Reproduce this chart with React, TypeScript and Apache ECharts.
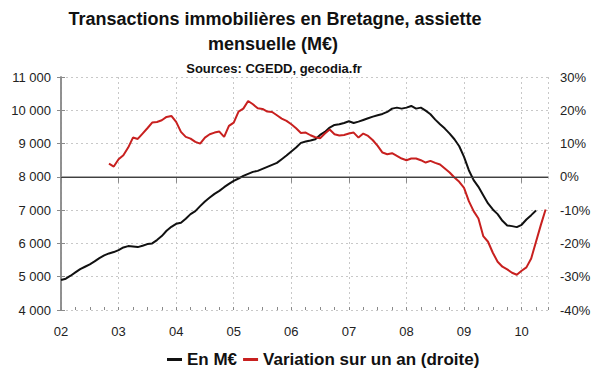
import React, { useEffect, useRef } from "react";
import * as echarts from "echarts";

// Monthly values, Jan 2002 = month 0
const BLACK_START = 0;
const blackValues = [
  4900, 4940, 5030, 5130, 5230, 5300, 5370, 5460, 5560, 5640, 5700, 5740,
  5800, 5880, 5920, 5910, 5890, 5930, 5980, 6000, 6100, 6220, 6380, 6500,
  6590, 6620, 6740, 6880, 6970, 7120, 7260, 7380, 7490, 7580, 7690, 7790,
  7880, 7950, 8030, 8090, 8150, 8180, 8240, 8300, 8360, 8420, 8530, 8640,
  8760, 8880, 9020, 9060, 9090, 9130, 9260, 9350, 9480, 9560, 9580, 9620,
  9670, 9620, 9660, 9710, 9760, 9810, 9850, 9890, 9950, 10050, 10080, 10050,
  10080, 10130, 10050, 10080, 9990, 9880, 9720, 9580, 9450, 9300, 9130, 8920,
  8600, 8200, 7900, 7700, 7450, 7200, 7020, 6880, 6680, 6540, 6520, 6490,
  6560, 6720, 6850, 6990,
];

const RED_START = 10; // Nov 2002
const redValues = [
  4.0, 3.1,
  5.3, 6.5, 8.8, 11.8, 11.4, 13.0, 14.6, 16.3, 16.5, 17.0, 18.0, 18.3,
  16.5, 13.5, 12.0, 11.5, 10.5, 10.0, 11.8, 12.8, 13.3, 13.6, 12.0, 15.3,
  16.3, 19.6, 20.5, 22.8, 21.8, 20.6, 20.4, 19.6, 19.5, 18.5, 17.5, 16.8,
  15.8, 14.6, 13.2, 13.3, 12.5, 11.9, 11.6, 13.0, 14.2, 12.8, 12.4, 12.6,
  13.0, 13.3, 11.8, 13.0, 12.3, 11.0, 9.3, 7.3, 6.8, 7.1, 6.3, 5.5,
  5.0, 5.5, 5.5, 5.0, 4.3, 4.8, 4.2, 3.7, 2.5, 1.3, -0.2, -1.5,
  -3.3, -7.3, -10.3, -12.5, -17.8, -19.5, -22.8, -25.5, -27.0, -27.8, -28.8, -29.4,
  -28.2, -27.2, -24.5, -19.5, -14.5, -9.8,
];

const SERIES_NAMES = ["En M€", "Variation sur un an (droite)"];
const TITLE_LINES = ["Transactions immobilières en Bretagne, assiette", "mensuelle (M€)"];
const SUBTITLE = "Sources: CGEDD, gecodia.fr";
const FIRST_YEAR = 2;
const X_MAX_MONTH = 101.5;

const FONT = "'Liberation Sans', Arial, sans-serif";
const AXIS_COLOR = "#8a8a8a";
const GRID_COLOR = "#c8c8c8";

export default function App() {
  const ref = useRef<HTMLDivElement>(null);
  useEffect(() => {
    if (!ref.current) return;
    const chart = echarts.init(ref.current, null, { renderer: "svg" });
    const blackData = blackValues.map((v, i) => [BLACK_START + i, v]);
    const redData = redValues.map((v, i) => [RED_START + i, v]);
    chart.setOption({
      animation: false,
      backgroundColor: "#ffffff",
      textStyle: { fontFamily: FONT },
      graphic: [
        {
          type: "text",
          x: 275,
          y: 19,
          style: { text: TITLE_LINES[0], font: `bold 18px ${FONT}`, fill: "#111", align: "center", verticalAlign: "middle" },
        },
        {
          type: "text",
          x: 273,
          y: 44,
          style: { text: TITLE_LINES[1], font: `bold 18px ${FONT}`, fill: "#111", align: "center", verticalAlign: "middle" },
        },
        {
          type: "text",
          x: 274,
          y: 68,
          style: { text: SUBTITLE, font: `bold 13px ${FONT}`, fill: "#111", align: "center", verticalAlign: "middle" },
        },
      ],
      legend: {
        data: SERIES_NAMES,
        left: 162,
        top: 346,
        icon: "rect",
        itemWidth: 15,
        itemHeight: 3,
        itemGap: 6,
        textStyle: { fontFamily: FONT, fontWeight: "bold", fontSize: 17, color: "#111" },
      },
      grid: { left: 61, right: 52, top: 77, bottom: 62, containLabel: false },
      xAxis: [
        {
          type: "value",
          min: 0,
          max: X_MAX_MONTH,
          interval: 12,
          position: "bottom",
          axisLine: { show: true, lineStyle: { color: AXIS_COLOR, width: 1.5 } },
          axisTick: { show: true, inside: false, length: 6, lineStyle: { color: AXIS_COLOR } },
          axisLabel: {
            margin: 15,
            fontSize: 13,
            color: "#222",
            fontFamily: FONT,
            showMaxLabel: false,
            formatter: (v: number) => {
              if (v % 12 !== 0) return "";
              const y = FIRST_YEAR + v / 12;
              return y < 10 ? "0" + y : String(y);
            },
          },
          splitLine: { show: true, lineStyle: { color: GRID_COLOR, type: [2, 3], width: 1 } },
        },
        {
          type: "value",
          min: 0,
          max: X_MAX_MONTH,
          interval: 3,
          position: "bottom",
          offset: 0,
          axisLine: { show: false },
          axisTick: { show: true, inside: true, length: 3, lineStyle: { color: AXIS_COLOR } },
          axisLabel: { show: false },
          splitLine: { show: false },
        },
      ],
      yAxis: [
        {
          type: "value",
          min: 4000,
          max: 11000,
          interval: 1000,
          position: "left",
          axisLine: { show: true, lineStyle: { color: AXIS_COLOR, width: 1.5 } },
          axisTick: { show: true, inside: false, length: 4, lineStyle: { color: AXIS_COLOR } },
          axisLabel: {
            margin: 10,
            fontSize: 13,
            color: "#222",
            fontFamily: FONT,
            formatter: (v: number) => {
              const s = String(v);
              return s.length > 3 ? s.slice(0, s.length - 3) + " " + s.slice(-3) : s;
            },
          },
          splitLine: { show: true, lineStyle: { color: GRID_COLOR, type: [2, 3], width: 1 } },
        },
        {
          type: "value",
          min: -40,
          max: 30,
          interval: 10,
          position: "right",
          axisLine: { show: true, lineStyle: { color: AXIS_COLOR, width: 1.5 } },
          axisTick: { show: true, inside: false, length: 4, lineStyle: { color: AXIS_COLOR } },
          axisLabel: { margin: 12, fontSize: 13, color: "#222", fontFamily: FONT, formatter: (v: number) => `${v}%` },
          splitLine: { show: false },
        },
      ],
      series: [
        {
          name: SERIES_NAMES[0],
          type: "line",
          xAxisIndex: 0,
          yAxisIndex: 0,
          data: blackData,
          showSymbol: false,
          symbol: "none",
          lineStyle: { color: "#111111", width: 2 },
          itemStyle: { color: "#111111" },
          z: 3,
          markLine: {
            silent: true,
            symbol: "none",
            label: { show: false },
            lineStyle: { color: "#404040", type: "solid", width: 1 },
            data: [{ yAxis: 8000 }],
          },
        },
        {
          name: SERIES_NAMES[1],
          type: "line",
          xAxisIndex: 0,
          yAxisIndex: 1,
          data: redData,
          showSymbol: false,
          symbol: "none",
          lineStyle: { color: "#c8201f", width: 2 },
          itemStyle: { color: "#c8201f" },
          z: 4,
        },
      ],
    });
    return () => chart.dispose();
  }, []);
  return (
    <div
      ref={ref}
      style={{ position: "fixed", left: 0, top: 0, width: 600, height: 372, background: "#fff" }}
    />
  );
}
